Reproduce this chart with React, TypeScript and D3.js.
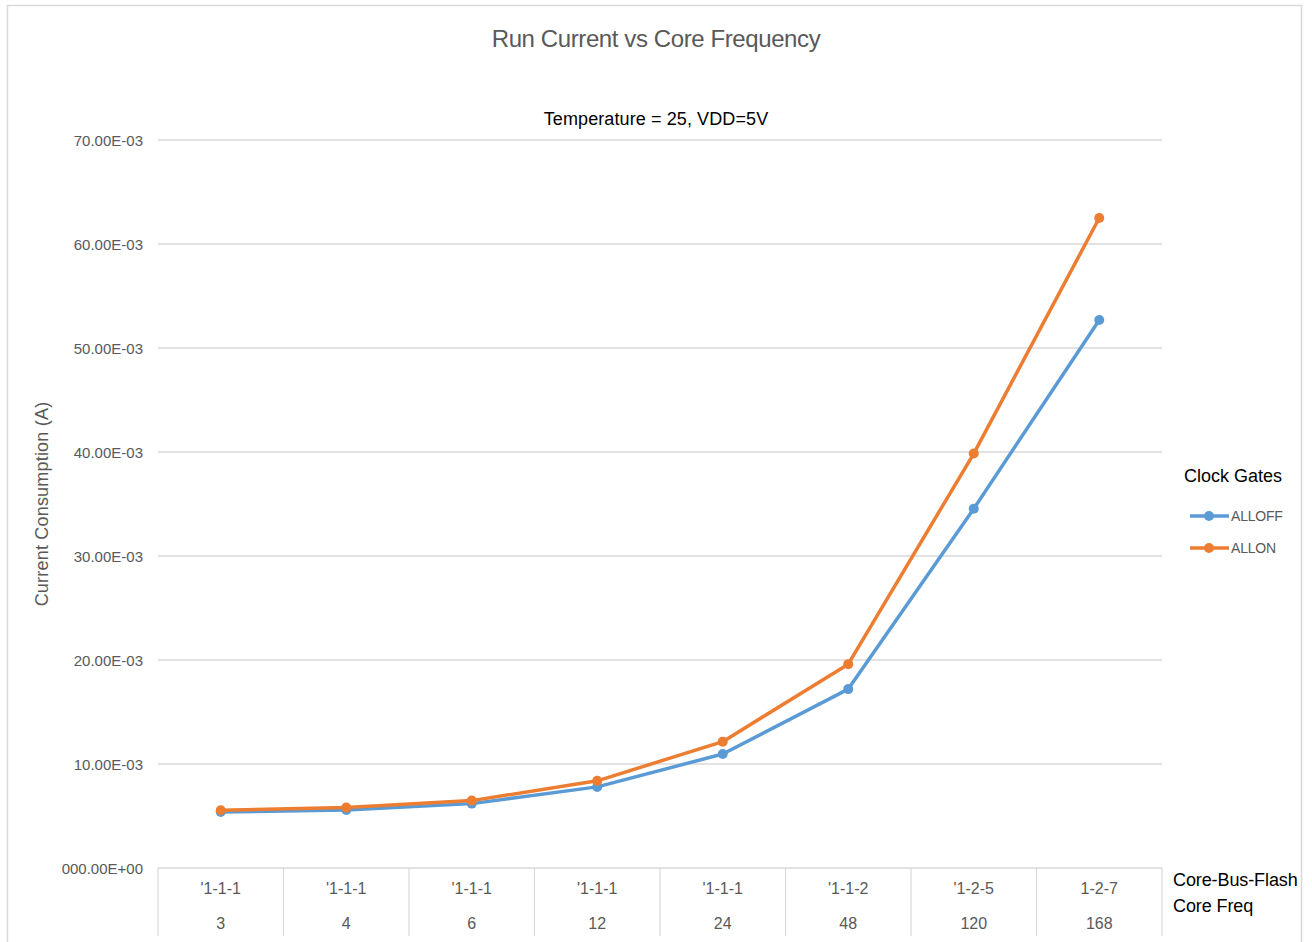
import React from "react";
import * as d3 from "d3";

const categories = ["3", "4", "6", "12", "24", "48", "120", "168"];
const ratios = ["'1-1-1", "'1-1-1", "'1-1-1", "'1-1-1", "'1-1-1", "'1-1-2", "'1-2-5", "1-2-7"];
const allOff = [5.38e-3, 5.58e-3, 6.19e-3, 7.8e-3, 10.96e-3, 17.2e-3, 34.54e-3, 52.7e-3];
const allOn = [5.55e-3, 5.81e-3, 6.48e-3, 8.38e-3, 12.15e-3, 19.6e-3, 39.85e-3, 62.5e-3];
const yTicks = [0, 10e-3, 20e-3, 30e-3, 40e-3, 50e-3, 60e-3, 70e-3];
const yTickLabels = ["000.00E+00", "10.00E-03", "20.00E-03", "30.00E-03", "40.00E-03", "50.00E-03", "60.00E-03", "70.00E-03"];
const seriesNames = ["ALLOFF", "ALLON"];
const seriesColors = ["#5B9BD5", "#ED7D31"];

const W = 1312;
const H = 942;
const plot = { left: 158, right: 1162, top: 140, bottom: 868 };
const FONT = "'Liberation Sans', Arial, sans-serif";

export default function App() {
  const x = d3.scaleBand<string>().domain(categories.map((c, i) => String(i))).range([plot.left, plot.right]);
  const y = d3.scaleLinear().domain([0, 70e-3]).range([plot.bottom, plot.top]);
  const line = d3
    .line<number>()
    .x((_, i) => (x(String(i)) as number) + x.bandwidth() / 2)
    .y((d) => y(d));
  const series = [allOff, allOn];
  const boundaries = d3.range(categories.length + 1).map((i) => plot.left + i * x.bandwidth());

  return (
    <svg
      width={W}
      height={H}
      style={{ position: "absolute", left: 0, top: 0, background: "#fff" }}
      fontFamily={FONT}
    >
      <rect x={7.5} y={5.5} width={1294} height={960} fill="#fff" stroke="#d9d9d9" strokeWidth={1.5} />
      <text x={656} y={47} textAnchor="middle" fontSize={24} fill="#595959" letterSpacing={-0.4}>
        Run Current vs Core Frequency
      </text>
      <text x={656} y={125} textAnchor="middle" fontSize={18} fill="#000" letterSpacing={0.1}>
        Temperature = 25, VDD=5V
      </text>
      {yTicks.map((t, i) => (
        <g key={i}>
          <line x1={plot.left} x2={plot.right} y1={y(t)} y2={y(t)} stroke="#d9d9d9" strokeWidth={1.5} />
          <text x={143} y={y(t) + 5.5} textAnchor="end" fontSize={15} fill="#595959">
            {yTickLabels[i]}
          </text>
        </g>
      ))}
      {boundaries.map((bx, i) => (
        <line key={i} x1={bx} x2={bx} y1={plot.bottom} y2={936} stroke="#d9d9d9" strokeWidth={1.2} />
      ))}
      {categories.map((c, i) => {
        const cx = (x(String(i)) as number) + x.bandwidth() / 2;
        return (
          <g key={i}>
            <text x={cx} y={894} textAnchor="middle" fontSize={16} fill="#595959">
              {ratios[i]}
            </text>
            <text x={cx} y={929} textAnchor="middle" fontSize={16} fill="#595959">
              {c}
            </text>
          </g>
        );
      })}
      <text x={1173} y={886} fontSize={18} fill="#000" letterSpacing={-0.1}>
        Core-Bus-Flash
      </text>
      <text x={1173} y={912} fontSize={18} fill="#000" letterSpacing={-0.1}>
        Core Freq
      </text>
      <text
        transform={`translate(48,${(plot.top + plot.bottom) / 2}) rotate(-90)`}
        textAnchor="middle"
        fontSize={18}
        fill="#595959"
        letterSpacing={0.2}
      >
        Current Consumption (A)
      </text>
      {series.map((s, si) => (
        <g key={si}>
          <path d={line(s) || ""} fill="none" stroke={seriesColors[si]} strokeWidth={3.5} strokeLinejoin="round" />
          {s.map((v, i) => (
            <circle
              key={i}
              cx={(x(String(i)) as number) + x.bandwidth() / 2}
              cy={y(v)}
              r={5}
              fill={seriesColors[si]}
            />
          ))}
        </g>
      ))}
      <text x={1184} y={482} fontSize={18} fill="#000" letterSpacing={0}>
        Clock Gates
      </text>
      {seriesNames.map((n, i) => {
        const ly = 516 + i * 32;
        return (
          <g key={n}>
            <line x1={1190} x2={1229} y1={ly} y2={ly} stroke={seriesColors[i]} strokeWidth={3.5} />
            <circle cx={1209} cy={ly} r={5} fill={seriesColors[i]} />
            <text x={1231} y={ly + 5} fontSize={14} fill="#595959" letterSpacing={-0.2}>
              {n}
            </text>
          </g>
        );
      })}
    </svg>
  );
}
